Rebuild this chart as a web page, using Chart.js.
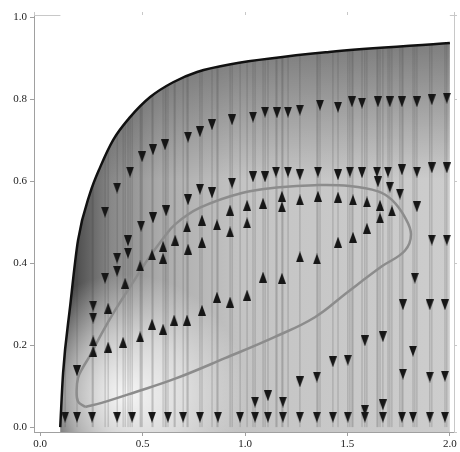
<!DOCTYPE html>
<html>
<head>
<meta charset="utf-8">
<title>Vector field</title>
<script src="https://cdn.jsdelivr.net/npm/chart.js"></script>
<style>
  html, body { margin: 0; padding: 0; background: #fff; }
  .chart-container { width: 460px; height: 452px; position: relative; }
</style>
</head>
<body>
<div class="chart-container"><canvas id="fieldChart"></canvas></div>
<script>
// tick labels
const xTicks = [0, 0.5, 1.0, 1.5, 2.0];
const yTicks = [0, 0.2, 0.4, 0.6, 0.8, 1.0];

// upper black boundary curve
const boundaryX = [0.098, 0.112, 0.146, 0.185, 0.244, 0.293, 0.356, 0.439, 0.537, 0.649, 0.766, 0.93, 1.41, 2.0];
const boundaryY = [0.0, 0.132, 0.293, 0.456, 0.571, 0.634, 0.70, 0.756, 0.805, 0.841, 0.866, 0.885, 0.915, 0.937];

// closed gray loop
const loopX = [0.22, 0.185, 0.178, 0.185, 0.205, 0.244, 0.30, 0.366, 0.449, 0.52, 0.60, 0.66, 0.78, 0.985, 1.17, 1.34, 1.51, 1.649, 1.717, 1.78, 1.81, 1.78, 1.668, 1.50, 1.341, 1.146, 0.902, 0.659, 0.463, 0.30, 0.22];
const loopY = [0.049, 0.062, 0.09, 0.12, 0.142, 0.175, 0.228, 0.285, 0.35, 0.405, 0.46, 0.495, 0.535, 0.571, 0.585, 0.59, 0.588, 0.575, 0.554, 0.512, 0.47, 0.43, 0.392, 0.329, 0.268, 0.22, 0.168, 0.118, 0.085, 0.059, 0.049];

// downward arrows
const downX = [0.498, 0.551, 0.610, 0.439, 0.376, 0.317, 0.722, 0.780, 0.839, 0.937, 1.039, 1.098, 1.156, 1.210, 1.268, 1.366, 1.454, 1.522, 1.571, 1.649, 1.707, 1.766, 1.839, 1.912, 1.985,
  0.429, 0.493, 0.551, 0.615, 0.722, 0.780, 0.839, 0.937, 1.039, 1.098, 1.151, 1.210, 1.268, 1.356, 1.454, 1.512, 1.571, 1.644, 1.698, 1.766, 1.839, 1.912, 1.985,
  1.649, 1.707, 1.756, 1.839, 1.912, 1.985, 0.429, 0.376, 0.376, 0.317, 0.259, 0.259, 0.180,
  1.829, 1.771, 1.902, 1.976, 1.585, 1.673, 1.820, 1.429, 1.502, 1.351, 1.771, 1.902, 1.976, 1.585, 1.673, 1.268, 1.049, 1.112, 1.185,
  0.122, 0.180, 0.254, 0.376, 0.449, 0.546, 0.624, 0.698, 0.780, 0.868, 0.976, 1.049, 1.112, 1.185, 1.268, 1.351, 1.429, 1.502, 1.585, 1.673, 1.766, 1.820, 1.902, 1.976];
const downY = [0.659, 0.676, 0.688, 0.622, 0.583, 0.524, 0.707, 0.720, 0.737, 0.749, 0.756, 0.768, 0.766, 0.768, 0.773, 0.785, 0.780, 0.793, 0.790, 0.793, 0.793, 0.793, 0.793, 0.798, 0.802,
  0.454, 0.490, 0.510, 0.527, 0.554, 0.580, 0.571, 0.595, 0.610, 0.610, 0.622, 0.622, 0.615, 0.622, 0.615, 0.622, 0.620, 0.622, 0.622, 0.627, 0.622, 0.632, 0.632,
  0.598, 0.585, 0.568, 0.537, 0.456, 0.456, 0.424, 0.412, 0.380, 0.363, 0.295, 0.266, 0.137,
  0.363, 0.298, 0.298, 0.298, 0.210, 0.220, 0.185, 0.159, 0.163, 0.122, 0.129, 0.122, 0.124, 0.041, 0.054, 0.110, 0.061, 0.076, 0.061,
  0.024, 0.024, 0.024, 0.024, 0.024, 0.024, 0.024, 0.024, 0.024, 0.024, 0.024, 0.024, 0.024, 0.024, 0.024, 0.024, 0.024, 0.024, 0.024, 0.024, 0.024, 0.024, 0.024, 0.024];

// upward arrows
const upX = [0.717, 0.790, 0.863, 0.927, 1.010, 1.088, 1.180, 1.180, 1.268, 1.356, 1.454, 1.527, 1.595, 1.659, 1.659, 1.717,
  0.790, 0.927, 1.010, 0.659, 0.722, 0.600, 0.546, 0.600, 0.488, 1.595, 1.527, 1.454,
  0.415, 0.332, 0.259, 0.259, 0.332, 0.405, 0.488, 0.546, 0.600, 0.654, 0.717, 0.790, 0.863, 0.927, 1.010, 1.088, 1.180, 1.268, 1.351];
const upY = [0.488, 0.505, 0.493, 0.529, 0.541, 0.546, 0.563, 0.537, 0.554, 0.563, 0.561, 0.554, 0.549, 0.541, 0.510, 0.527,
  0.451, 0.476, 0.498, 0.456, 0.434, 0.441, 0.420, 0.412, 0.393, 0.485, 0.463, 0.451,
  0.351, 0.290, 0.210, 0.185, 0.195, 0.207, 0.220, 0.251, 0.239, 0.261, 0.261, 0.285, 0.317, 0.305, 0.322, 0.366, 0.363, 0.415, 0.410];

const toPoints = (xs, ys) => xs.map((x, i) => ({ x: x, y: ys[i] }));
const boundary = toPoints(boundaryX, boundaryY);

// vertical stream lines through every arrow column
const streamData = [];
[...new Set(downX.concat(upX))].forEach(x => {
  streamData.push({ x: x, y: 0 }, { x: x, y: 1 }, { x: x, y: null });
});

// arrow glyph
function makeArrow(w, h) {
  const c = document.createElement('canvas');
  c.width = w; c.height = h;
  const g = c.getContext('2d');
  g.fillStyle = '#161616';
  g.beginPath();
  g.moveTo(w / 2, 0); g.lineTo(w, h); g.lineTo(0, h);
  g.closePath(); g.fill();
  return c;
}
const arrow = makeArrow(8, 11);

// background shading helpers
function shade(build) {
  return function (ctx) {
    const chart = ctx.chart;
    if (!chart.chartArea) return 'rgba(0,0,0,0)';
    return build(chart.ctx, chart.scales.x, chart.scales.y);
  };
}
const baseFill = shade((c, sx) => {
  const g = c.createLinearGradient(sx.getPixelForValue(0.1), 0, sx.getPixelForValue(2.0), 0);
  g.addColorStop(0, '#2a2a2a');
  g.addColorStop(0.05, '#555555');
  g.addColorStop(0.13, '#888888');
  g.addColorStop(0.26, '#acacac');
  g.addColorStop(0.47, '#c4c4c4');
  g.addColorStop(1, '#cdcdcd');
  return g;
});
const glowFill = shade((c, sx, sy) => {
  const cx = sx.getPixelForValue(0.42), cy = sy.getPixelForValue(0.08);
  const g = c.createRadialGradient(cx, cy, 0, cx, cy, 120);
  g.addColorStop(0, 'rgba(255,255,255,0.92)');
  g.addColorStop(0.5, 'rgba(255,255,255,0.55)');
  g.addColorStop(1, 'rgba(255,255,255,0)');
  return g;
});
const topFill = shade((c, sx, sy) => {
  const g = c.createLinearGradient(0, sy.getPixelForValue(0.95), 0, sy.getPixelForValue(0.6));
  g.addColorStop(0, 'rgba(0,0,0,0.4)');
  g.addColorStop(1, 'rgba(0,0,0,0)');
  return g;
});

const tickFont = { family: 'Liberation Serif', size: 11 };
const frameColor = '#a0a0a0';

new Chart(document.getElementById('fieldChart'), {
  type: 'scatter',
  data: {
    datasets: [
      { data: boundary, showLine: true, fill: 'start', backgroundColor: baseFill, borderWidth: 0, pointRadius: 0, cubicInterpolationMode: 'monotone', order: 10 },
      { data: boundary, showLine: true, fill: 'start', backgroundColor: glowFill, borderWidth: 0, pointRadius: 0, cubicInterpolationMode: 'monotone', order: 9 },
      { data: boundary, showLine: true, fill: 'start', backgroundColor: topFill, borderWidth: 0, pointRadius: 0, cubicInterpolationMode: 'monotone', order: 8 },
      { data: streamData, showLine: true, spanGaps: false, borderColor: 'rgba(70,70,70,0.28)', borderWidth: 1, pointRadius: 0, order: 7 },
      { data: boundary, showLine: true, fill: 'end', backgroundColor: '#ffffff', borderColor: '#111', borderWidth: 2.5, pointRadius: 0, cubicInterpolationMode: 'monotone', order: 6 },
      { data: toPoints(loopX, loopY), showLine: true, borderColor: '#8c8c8c', borderWidth: 2.5, pointRadius: 0, tension: 0.4, order: 5 },
      { data: toPoints(downX, downY), pointStyle: arrow, rotation: 180, pointRadius: 5, order: 2 },
      { data: toPoints(upX, upY), pointStyle: arrow, rotation: 0, pointRadius: 5, order: 1 }
    ]
  },
  options: {
    responsive: true,
    maintainAspectRatio: false,
    animation: false,
    layout: { padding: { top: 15, right: 6, left: 0, bottom: 0 } },
    plugins: { legend: { display: false }, tooltip: { enabled: false } },
    scales: {
      x: {
        type: 'linear', min: -0.03, max: 2.02,
        afterBuildTicks: s => { s.ticks = xTicks.map(v => ({ value: v })); },
        afterFit: s => { s.height = 20; },
        ticks: { callback: v => v.toFixed(1), font: tickFont, color: '#222', padding: 2, maxRotation: 0 },
        grid: { drawOnChartArea: false, tickLength: 4, color: frameColor },
        border: { color: frameColor }
      },
      y: {
        type: 'linear', min: -0.012, max: 1.005,
        afterBuildTicks: s => { s.ticks = yTicks.map(v => ({ value: v })); },
        afterFit: s => { s.width = 34; },
        ticks: { callback: v => v.toFixed(1), font: tickFont, color: '#222', padding: 3 },
        grid: { drawOnChartArea: false, tickLength: 4, color: frameColor },
        border: { color: frameColor }
      },
      x2: {
        type: 'linear', axis: 'x', position: 'top', min: -0.03, max: 2.02,
        afterFit: s => { s.height = 0; },
        ticks: { display: false },
        grid: { drawOnChartArea: false, tickLength: 3, color: '#c8c8c8' },
        border: { color: '#c8c8c8' }
      },
      y2: {
        type: 'linear', axis: 'y', position: 'right', min: -0.012, max: 1.005,
        afterFit: s => { s.width = 0; },
        ticks: { display: false },
        grid: { drawOnChartArea: false, tickLength: 3, color: '#c8c8c8' },
        border: { color: '#c8c8c8' }
      }
    }
  }
});
</script>
</body>
</html>
